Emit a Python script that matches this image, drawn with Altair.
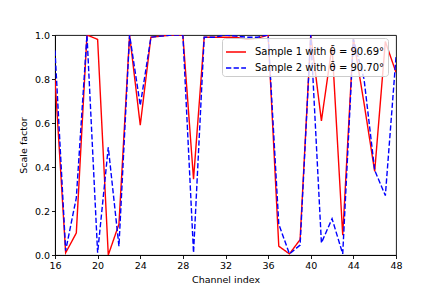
import altair as alt
import pandas as pd

channels = list(range(16, 49))
sample1 = [0.80, 0.01, 0.10, 1.00, 0.98, 0.00, 0.14, 1.00, 0.59, 0.99, 0.995,
           1.00, 1.00, 0.345, 0.99, 0.99, 0.99, 0.99, 0.98, 0.985, 1.00, 0.04,
           0.005, 0.07, 1.00, 0.61, 0.95, 0.09, 0.985, 0.69, 0.38, 0.97, 0.83]
sample2 = [0.93, 0.02, 0.26, 1.00, 0.01, 0.49, 0.04, 1.00, 0.68, 0.99, 0.995,
           1.00, 1.00, 0.01, 0.99, 0.99, 1.00, 0.995, 0.99, 0.99, 1.00, 0.14,
           0.005, 0.045, 1.00, 0.055, 0.165, 0.005, 0.98, 0.80, 0.385, 0.27, 0.90]
labels = ["Sample 1 with θ̄ = 90.69°", "Sample 2 with θ̄ = 90.70°"]
colors = ["#ff0000", "#0000ff"]
dashes = [[1, 0], [5.3, 2.3]]
x_ticks = [16, 20, 24, 28, 32, 36, 40, 44, 48]
y_ticks = [0.0, 0.2, 0.4, 0.6, 0.8, 1.0]

rows = []
for c, a, b in zip(channels, sample1, sample2):
    rows.append({"channel": c, "value": a, "series": labels[0]})
    rows.append({"channel": c, "value": b, "series": labels[1]})
df = pd.DataFrame(rows)

font = "DejaVu Sans"

chart = alt.Chart(df).mark_line(strokeWidth=1.4, clip=True).encode(
    x=alt.X("channel:Q", scale=alt.Scale(domain=[16, 48], nice=False, zero=False),
            axis=alt.Axis(values=x_ticks, title="Channel index", format="d")),
    y=alt.Y("value:Q", scale=alt.Scale(domain=[0, 1], nice=False),
            axis=alt.Axis(values=y_ticks, title="Scale factor", format=".1f")),
    color=alt.Color("series:N", scale=alt.Scale(domain=labels, range=colors),
                    legend=alt.Legend(title=None, orient="none", legendX=167, legendY=3)),
    strokeDash=alt.StrokeDash("series:N", scale=alt.Scale(domain=labels, range=dashes),
                              legend=alt.Legend(title=None, orient="none", legendX=167, legendY=3)),
    order=alt.Order("channel:Q"),
).properties(
    width=341, height=220,
    autosize=alt.AutoSizeParams(type="none"),
    padding={"left": 47, "top": 27, "right": 27, "bottom": 29},
).configure_view(
    stroke="black", strokeWidth=0.9
).configure_axis(
    grid=False, domainColor="black", domainWidth=0.9, tickColor="black",
    tickWidth=0.9, tickSize=3.5, labelFont=font, labelFontSize=9.5,
    labelColor="black", titleFont=font, titleFontSize=9.5, titleFontWeight="normal",
    titleColor="black", labelPadding=2,
).configure_axisX(
    titlePadding=4, labelFlush=False
).configure_axisY(
    titlePadding=6, labelFlush=False
).configure_legend(
    fillColor="rgba(255,255,255,0.8)", strokeColor="#cccccc", cornerRadius=3,
    padding=3, labelFont=font, labelFontSize=10, labelColor="black",
    symbolType="stroke", symbolSize=400, symbolStrokeWidth=1.4, rowPadding=-2,
    labelOffset=8, labelLimit=300,
)

chart.save("out.html", embed_options={"renderer": "svg", "actions": False})
